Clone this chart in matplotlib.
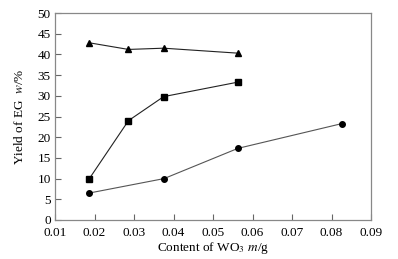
import matplotlib
matplotlib.use("Agg")
import matplotlib.pyplot as plt

tri_x = [0.0187, 0.0286, 0.0375, 0.0563]
tri_y = [42.8, 41.2, 41.5, 40.3]
sq_x = [0.0187, 0.0286, 0.0375, 0.0563]
sq_y = [10.0, 24.0, 29.8, 33.3]
ci_x = [0.0186, 0.0376, 0.0563, 0.0827]
ci_y = [6.5, 10.0, 17.3, 23.3]

xticks = [0.01, 0.02, 0.03, 0.04, 0.05, 0.06, 0.07, 0.08, 0.09]
yticks = [0, 5, 10, 15, 20, 25, 30, 35, 40, 45, 50]

plt.rcParams['font.family'] = ['Liberation Serif', 'DejaVu Serif']
plt.rcParams['mathtext.fontset'] = 'stix'

fig = plt.figure(figsize=(3.98, 2.59), dpi=100)
ax = fig.add_axes([55/398, 1-220/259, (371-55)/398, (220-13)/259])

ax.plot(tri_x, tri_y, color='#222222', lw=0.8, marker='^', ms=4.2, mfc='black', mec='black')
ax.plot(sq_x, sq_y, color='#222222', lw=0.8, marker='s', ms=4, mfc='black', mec='black')
ax.plot(ci_x, ci_y, color='#555555', lw=0.8, marker='o', ms=4, mfc='black', mec='black')

ax.set_xlim(0.01, 0.09)
ax.set_ylim(0, 50)
ax.set_xticks(xticks)
ax.set_xticklabels([f"{v:.2f}" for v in xticks])
ax.set_yticks(yticks)
ax.tick_params(direction='in', length=4, width=0.8, color='#666666', labelsize=9.5)
ax.tick_params(axis='x', pad=5)
ax.tick_params(axis='y', pad=3)
for s in ax.spines.values():
    s.set_color('#888888')
    s.set_linewidth(0.9)

ax.set_xlabel(r"Content of WO$_3$ $m$/g", fontsize=9.5, labelpad=1)
ax.set_ylabel(r"Yield of EG  $w$/%", fontsize=9.5, labelpad=8)

fig.savefig("out.png", dpi=100)
